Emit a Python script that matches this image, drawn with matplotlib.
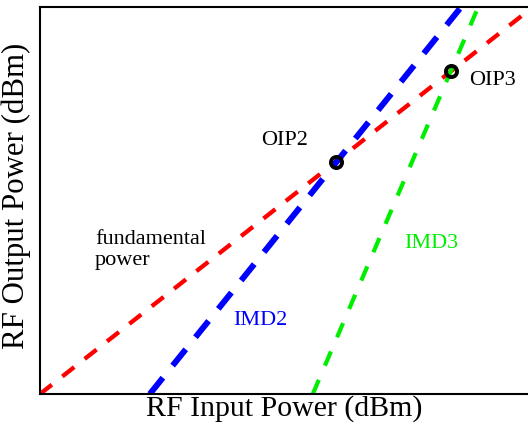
import matplotlib
matplotlib.use("Agg")
import matplotlib.pyplot as plt

# Data (arbitrary units)
fund_x = [0.0, 10.0]
fund_y = [0.0, 9.9]
imd2_x = [2.25, 8.63]
imd2_y = [0.0, 10.0]
imd3_x = [5.59, 8.98]
imd3_y = [0.0, 10.0]
oip2 = (6.07, 5.99)
oip3 = (8.42, 8.35)

plt.rcParams['font.family'] = ['Liberation Serif', 'DejaVu Serif']

W, H = 528, 429
fig = plt.figure(figsize=(W / 100, H / 100), dpi=100)
ax = fig.add_axes([40 / W, (H - 394) / H, (W - 40) / W, (394 - 7) / H])
ax.set_xlim(0, 10)
ax.set_ylim(0, 10)

ax.plot(fund_x, fund_y, color='#ff0000', lw=3.1, dashes=(3.5, 3.1), dash_capstyle='butt')
ax.plot(imd2_x, imd2_y, color='#0000ff', lw=4.3, dashes=(3.5, 2.6), dash_capstyle='butt')
ax.plot(imd3_x, imd3_y, color='#00ee00', lw=3.0, dashes=(3.7, 3.7), dash_capstyle='butt')

for p in (oip2, oip3):
    ax.plot([p[0]], [p[1]], 'o', ms=8.0, mfc='none', mec='black', mew=2.8, zorder=5)

fs = 16
ax.text(5.02, 6.54, 'OIP2', fontsize=fs, ha='center', va='center')
ax.text(9.28, 8.09, 'OIP3', fontsize=fs, ha='center', va='center')
ax.text(1.13, 3.72, 'fundamental\npower', fontsize=fs, ha='left', va='center', linespacing=1.15)
ax.text(4.51, 1.89, 'IMD2', fontsize=fs, ha='center', va='center', color='#0000ff')
ax.text(8.01, 3.89, 'IMD3', fontsize=fs, ha='center', va='center', color='#00ee00')

ax.set_xticks([])
ax.set_yticks([])
ax.spines['right'].set_visible(False)
for s in ('left', 'bottom', 'top'):
    ax.spines[s].set_linewidth(1.5)

ax.set_xlabel('RF Input Power (dBm)', fontsize=21.5, labelpad=1)
ax.set_ylabel('RF Output Power (dBm)', fontsize=22.2)
ax.yaxis.set_label_coords(-0.018, 0.513)

fig.savefig('out.png', dpi=100)
